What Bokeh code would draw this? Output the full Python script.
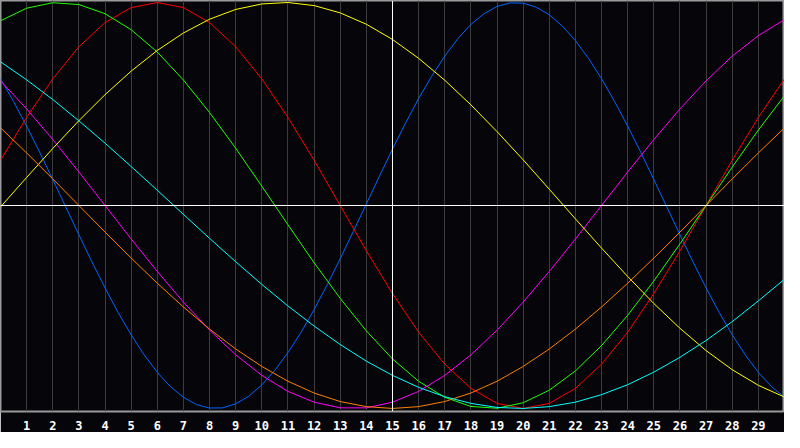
from bokeh.plotting import figure
from bokeh.models import Range1d, FixedTicker, Span
from bokeh.embed import file_html
from bokeh.resources import INLINE

# day of month (0 .. 30), ticks are labelled 1 .. 29
days = list(range(0, 31))
half_days = [i / 2 for i in range(0, 61)]  # physical is short, read it twice a day
tick_days = list(range(1, 30))

# cycle values
physical = [0.625, 0.512, 0.391, 0.262, 0.128, -0.008, -0.144, -0.278, -0.406, -0.527,
            -0.637, -0.736, -0.822, -0.892, -0.945, -0.981, -0.998, -0.997, -0.977, -0.940,
            -0.884, -0.812, -0.725, -0.625, -0.513, -0.391, -0.262, -0.128, 0.008, 0.144,
            0.278, 0.406, 0.527, 0.637, 0.736, 0.822, 0.892, 0.945, 0.981, 0.998,
            0.997, 0.977, 0.940, 0.884, 0.812, 0.725, 0.625, 0.512, 0.391, 0.262,
            0.128, -0.008, -0.144, -0.278, -0.406, -0.527, -0.637, -0.736, -0.822, -0.892,
            -0.945]
emotional = [0.223, 0.434, 0.624, 0.782, 0.901, 0.975, 1.0, 0.975, 0.901, 0.782,
             0.624, 0.434, 0.223, 0.0, -0.223, -0.434, -0.624, -0.782, -0.901, -0.975,
             -1.0, -0.975, -0.901, -0.782, -0.624, -0.434, -0.223, 0.0, 0.223, 0.434, 0.624]
intellectual = [0.910, 0.972, 0.999, 0.990, 0.945, 0.866, 0.756, 0.618, 0.458, 0.282,
                0.095, -0.095, -0.282, -0.458, -0.618, -0.756, -0.866, -0.945, -0.990, -0.999,
                -0.972, -0.910, -0.815, -0.690, -0.541, -0.372, -0.189, 0.0, 0.189, 0.372, 0.541]
intuitive = [0.614, 0.476, 0.325, 0.165, 0.0, -0.165, -0.325, -0.476, -0.614, -0.736,
             -0.837, -0.916, -0.969, -0.997, -0.997, -0.969, -0.916, -0.837, -0.736, -0.614,
             -0.476, -0.325, -0.165, 0.0, 0.165, 0.325, 0.476, 0.614, 0.736, 0.837, 0.916]
aesthetic = [-0.007, 0.138, 0.281, 0.418, 0.546, 0.662, 0.764, 0.850, 0.918, 0.966,
             0.993, 1.0, 0.985, 0.949, 0.893, 0.818, 0.725, 0.617, 0.496, 0.364,
             0.225, 0.080, -0.066, -0.210, -0.350, -0.483, -0.605, -0.715, -0.809, -0.886, -0.944]
awareness = [0.383, 0.259, 0.131, 0.0, -0.131, -0.259, -0.383, -0.5, -0.609, -0.707,
             -0.793, -0.866, -0.924, -0.966, -0.991, -1.0, -0.991, -0.966, -0.924, -0.866,
             -0.793, -0.707, -0.609, -0.5, -0.383, -0.259, -0.131, 0.0, 0.131, 0.259, 0.383]
spiritual = [0.708, 0.619, 0.522, 0.417, 0.307, 0.192, 0.075, -0.044, -0.162, -0.277,
             -0.389, -0.495, -0.594, -0.685, -0.767, -0.837, -0.896, -0.942, -0.975, -0.995,
             -1.0, -0.991, -0.969, -0.932, -0.883, -0.821, -0.748, -0.665, -0.572, -0.470, -0.363]

series = [
    (half_days, physical, "#0066ff"),
    (days, emotional, "#ff0000"),
    (days, intellectual, "#22ff00"),
    (days, intuitive, "#ff00ff"),
    (days, aesthetic, "#ffff00"),
    (days, awareness, "#ff8000"),
    (days, spiritual, "#00ffff"),
]

bg = "#06050a"

p = figure(width=784, height=432, output_backend="svg", toolbar_location=None,
           x_range=Range1d(0, 30), y_range=Range1d(-1.015, 1.01),
           min_border_left=0, min_border_right=0, min_border_top=0, min_border_bottom=20)
p.background_fill_color = bg
p.border_fill_color = bg
p.outline_line_color = "#9a9a9a"
p.outline_line_width = 2

p.yaxis.visible = False
p.ygrid.grid_line_color = None

p.xaxis.ticker = FixedTicker(ticks=tick_days)
p.xaxis.axis_line_color = None
p.xaxis.major_tick_line_color = None
p.xaxis.minor_tick_line_color = None
p.xaxis.major_label_standoff = 3
p.xaxis.major_label_text_color = "white"
p.xaxis.major_label_text_font = "DejaVu Sans Mono"
p.xaxis.major_label_text_font_style = "bold"
p.xaxis.major_label_text_font_size = "12px"

p.xgrid.ticker = FixedTicker(ticks=tick_days)
p.xgrid.grid_line_color = "#3c3c3c"
p.xgrid.grid_line_width = 1

# white cross at mid month / zero line
p.add_layout(Span(location=15, dimension="height", line_color="white", line_width=1))
p.add_layout(Span(location=0, dimension="width", line_color="white", line_width=1))

for xs, vals, col in series:
    p.line(xs, vals, line_color=col, line_width=1)

open("out.html", "w").write(file_html(p, INLINE))
